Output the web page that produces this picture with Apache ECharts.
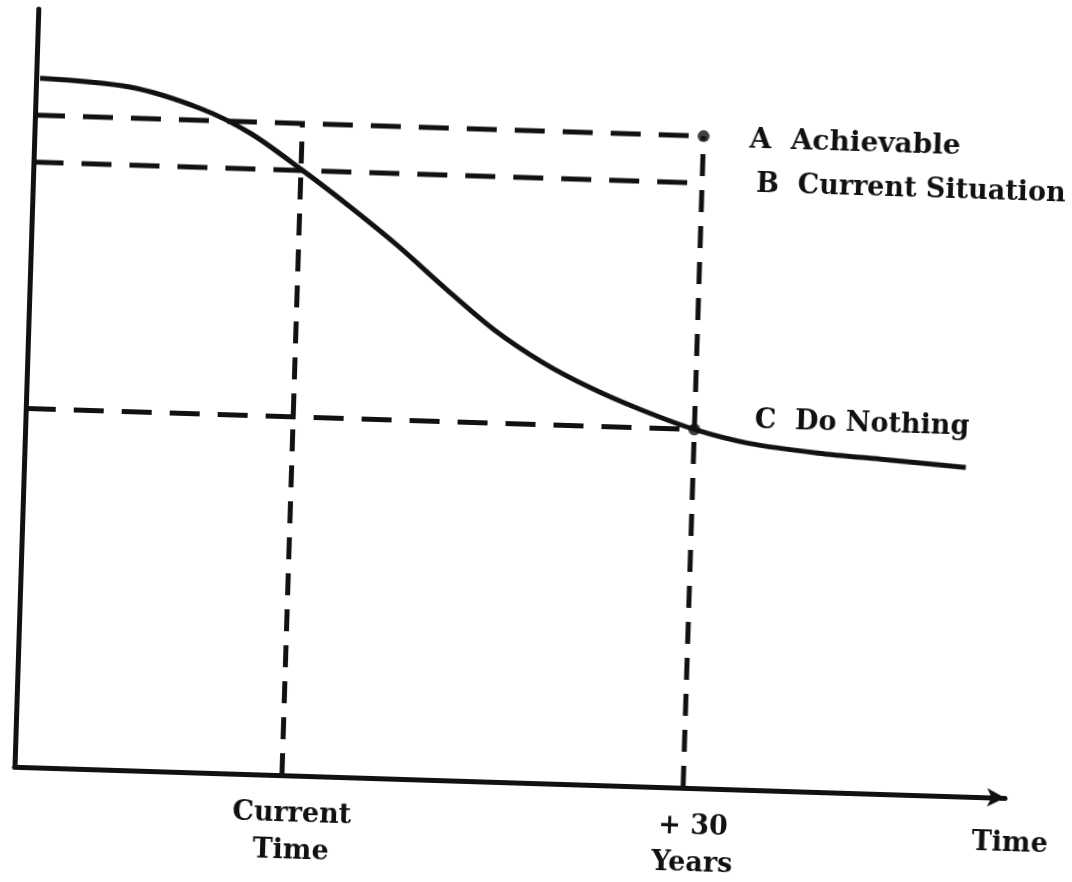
<!DOCTYPE html>
<html>
<head>
<meta charset="utf-8">
<title>Achievable / Current Situation / Do Nothing</title>
<script src="https://cdn.jsdelivr.net/npm/echarts@6/dist/echarts.min.js"></script>
<style>
  html, body { margin: 0; padding: 0; background: #fff; overflow: hidden; }
  /* the original is a slightly skewed scan, so the whole plot is turned a little */
  #chart { width: 1072px; height: 882px; transform: rotate(1.8deg); transform-origin: 50% 50%; }
</style>
</head>
<body>
<div id="chart"></div>
<script>
// curve (time, level)
const curveX = [0.4, 9.5, 16.6, 21.8, 27.2, 32, 37, 42, 47, 52, 57, 62, 67.5, 73, 80, 87, 95];
const curveY = [90.9, 90.1, 87.6, 84.5, 79.8, 75.3, 70.3, 64.8, 59.6, 55.5, 52.3, 49.7, 47.3, 45.7, 44.7, 44.1, 43.4];

// marks on the time axis
const timeMarks = [27, 67.5];
const tickLabels = ['Current\nTime', '+ 30\nYears'];

// the three levels at +30 years
const levelNames = ['A  Achievable', 'B  Current Situation', 'C  Do Nothing'];
const levelValues = [86, 79.8, 47.3];

const ink = '#111';
const font = 'DejaVu Serif';

let chart = echarts.init(document.getElementById('chart'));

let labelOffsets = [[38, 3], [46, 0], [52, -10]]; // labels sit a bit away from the line ends

let series = [{
    type: 'line',
    data: curveX.map((x, i) => [x, curveY[i]]),
    smooth: 0.3,
    symbol: 'none',
    lineStyle: { color: ink, width: 5 },
    z: 5
}];

// horizontal dashed levels, from the y axis to +30 years
levelValues.forEach((v, i) => {
    series.push({
        type: 'line',
        data: [[0, v], [timeMarks[1], v]],
        symbol: 'none',
        lineStyle: { color: ink, width: 5, type: [30, 18] },
        endLabel: {
            show: true,
            formatter: levelNames[i],
            offset: labelOffsets[i],
            color: ink,
            fontFamily: font,
            fontWeight: 'bold',
            fontSize: i == 0 ? 28 : 27
        }
    });
});

// vertical dashed lines at current time and +30 years
timeMarks.forEach((t) => {
    series.push({
        type: 'line',
        data: [[t, 0], [t, levelValues[0]]],
        symbol: 'none',
        lineStyle: { color: ink, width: 5, type: [22, 14] }
    });
});

// dots where the lines meet at +30 years
series.push({
    type: 'scatter',
    data: [[timeMarks[1], levelValues[0]], [timeMarks[1], levelValues[2]]],
    symbol: 'circle',
    symbolSize: 12,
    itemStyle: { color: ink },
    z: 6
});

let option = {
    animation: false,
    backgroundColor: '#fff',
    grid: { left: 25, right: 56, top: 25, bottom: 99 },
    xAxis: {
        type: 'value',
        min: 0,
        max: 100,
        name: '\n\nTime',
        nameLocation: 'end',
        nameGap: -32,
        nameTextStyle: {
            color: ink, fontFamily: font, fontWeight: 'bold', fontSize: 27,
            lineHeight: 46
        },
        axisLine: {
            show: true,
            symbol: ['none', 'arrow'],
            symbolSize: [14, 18],
            lineStyle: { color: ink, width: 5 }
        },
        axisTick: { show: false },
        splitLine: { show: false },
        axisLabel: {
            customValues: timeMarks,
            formatter: (val) => tickLabels[timeMarks.indexOf(val)] || '',
            margin: 20,
            padding: [0, 0, 0, 22],
            color: ink,
            fontFamily: font,
            fontWeight: 'bold',
            fontSize: 27,
            lineHeight: 37
        }
    },
    yAxis: {
        type: 'value',
        min: 0,
        max: 100,
        axisLine: { show: true, lineStyle: { color: ink, width: 5 } },
        axisTick: { show: false },
        axisLabel: { show: false },
        splitLine: { show: false }
    },
    series: series
};

chart.setOption(option);
</script>
</body>
</html>
